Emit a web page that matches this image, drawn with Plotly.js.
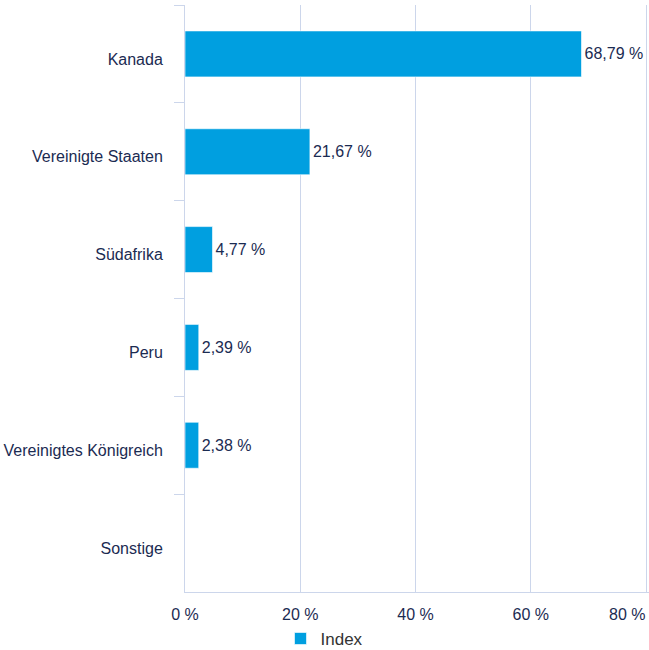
<!DOCTYPE html>
<html>
<head>
<meta charset="utf-8">
<script src="https://cdn.plot.ly/plotly-3.0.1.min.js"></script>
<style>html,body{margin:0;padding:0;background:#fff;}#chart{width:649px;height:650px;}</style>
</head>
<body>
<div id="chart"></div>
<script>
const categories = ["Kanada", "Vereinigte Staaten", "Südafrika", "Peru", "Vereinigtes Königreich", "Sonstige"];
const values = [68.79, 21.67, 4.77, 2.39, 2.38, null];
const tickValues = [0, 20, 40, 60, 80];
const tickLabels = ["0 %", "20 %", "40 %", "60 %", "80 %"];
const seriesName = "Index";

const textColor = "#1b2b52";
const gridColor = "#ccd6eb";

const labels = values.map(v => v == null ? "" : v.toFixed(2).replace(".", ",") + " %");

// the last tick label is drawn right-aligned at its tick (so it stays inside the frame)
const lastIdx = tickValues.length - 1;
const shownTickText = tickLabels.map((t, i) => i === lastIdx ? "" : t);

const trace = {
  type: "bar",
  orientation: "h",
  y: categories,
  x: values,
  name: seriesName,
  text: labels,
  textposition: "outside",
  cliponaxis: false,
  textfont: {family: "Liberation Sans, Arial, sans-serif", size: 16, color: textColor},
  marker: {color: "#009fe0", line: {color: "rgba(255,255,255,0.6)", width: 1}},
  hoverinfo: "skip"
};

const layout = {
  width: 649, height: 650,
  margin: {l: 185, r: 0, t: 5, b: 58, autoexpand: false},
  paper_bgcolor: "#ffffff",
  plot_bgcolor: "#ffffff",
  font: {family: "Liberation Sans, Arial, sans-serif", size: 16, color: textColor},
  bargap: 0.53,
  showlegend: true,
  legend: {orientation: "h", x: 0.5, xanchor: "center", xref: "container", y: 0.017, yanchor: "middle", yref: "container",
           font: {size: 17, color: "#333333"}},
  xaxis: {
    range: [0, 80.5], tickvals: tickValues, ticktext: shownTickText,
    showgrid: true, gridcolor: gridColor, gridwidth: 1,
    showline: true, linecolor: gridColor, linewidth: 1,
    zeroline: false, ticks: "", ticklabelstandoff: 8,
    tickfont: {size: 16, color: textColor},
    fixedrange: true
  },
  yaxis: {
    autorange: "reversed", type: "category",
    tickson: "boundaries", ticks: "outside", ticklen: 10, tickcolor: gridColor, tickwidth: 1,
    ticklabelstandoff: 18, ticklabelshift: -5,
    showline: true, linecolor: gridColor, linewidth: 1,
    showgrid: false, zeroline: false,
    tickfont: {size: 16, color: textColor},
    fixedrange: true
  },
  annotations: [{
    x: tickValues[lastIdx], xref: "x", xanchor: "right",
    y: 0, yref: "paper", yanchor: "middle", yshift: -22,
    text: tickLabels[lastIdx], showarrow: false, borderpad: 0,
    font: {family: "Liberation Sans, Arial, sans-serif", size: 16, color: textColor}
  }]
};

Plotly.newPlot("chart", [trace], layout, {displayModeBar: false, staticPlot: true});
</script>
</body>
</html>
